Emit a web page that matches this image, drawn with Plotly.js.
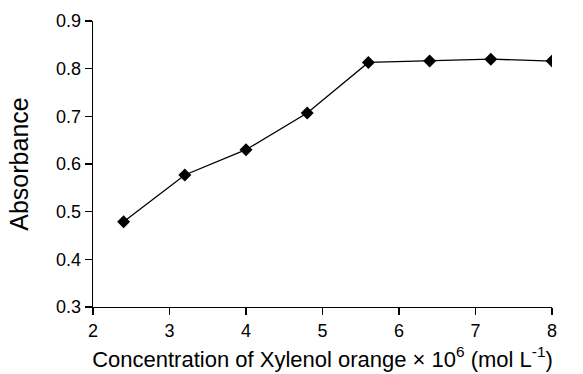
<!DOCTYPE html>
<html>
<head>
<script src="https://cdn.plot.ly/plotly-3.0.1.min.js"></script>
<style>html,body{margin:0;padding:0;background:#fff;}#c{width:583px;height:374px;}</style>
</head>
<body>
<div id="c"></div>
<script>
const concentration = [2.4, 3.2, 4.0, 4.8, 5.6, 6.4, 7.2, 8.0];
const absorbance = [0.479, 0.577, 0.630, 0.707, 0.813, 0.816, 0.820, 0.816];
const xTicks = [2, 3, 4, 5, 6, 7, 8];
const yTicks = [0.3, 0.4, 0.5, 0.6, 0.7, 0.8, 0.9];

Plotly.newPlot('c', [{
  x: concentration,
  y: absorbance,
  type: 'scatter',
  mode: 'lines+markers',
  line: {color: '#000', width: 1.3},
  marker: {symbol: 'diamond', size: 10, color: '#000'},
  showlegend: false
}], {
  width: 583, height: 374,
  margin: {l: 93, r: 30.5, t: 21, b: 67.3},
  paper_bgcolor: '#fff', plot_bgcolor: '#fff',
  font: {family: 'Liberation Sans', color: '#000', size: 18},
  xaxis: {
    range: [2, 8], tickmode: 'array', tickvals: xTicks, ticktext: xTicks.map(String),
    showgrid: false, zeroline: false, showline: true, linecolor: '#000', linewidth: 1.3,
    ticks: 'outside', ticklen: 7, tickwidth: 1.3, tickcolor: '#000',
    tickfont: {size: 18, family: 'Liberation Sans', color: '#000'},
    title: {text: 'Concentration of Xylenol orange × 10<sup>6</sup> (mol L<sup>-1</sup>)', font: {size: 22, family: 'Liberation Sans'}, standoff: 11}
  },
  yaxis: {
    range: [0.3, 0.9], tickmode: 'array', tickvals: yTicks, ticktext: yTicks.map(v => v.toFixed(1)),
    showgrid: false, zeroline: false, showline: true, linecolor: '#000', linewidth: 1.3,
    ticks: 'outside', ticklen: 7, tickwidth: 1.3, tickcolor: '#000',
    tickfont: {size: 18, family: 'Liberation Sans', color: '#000'},
    title: {text: 'Absorbance', font: {size: 25, family: 'Liberation Sans'}, standoff: 20}
  }
}, {displayModeBar: false, staticPlot: true});
</script>
</body>
</html>
